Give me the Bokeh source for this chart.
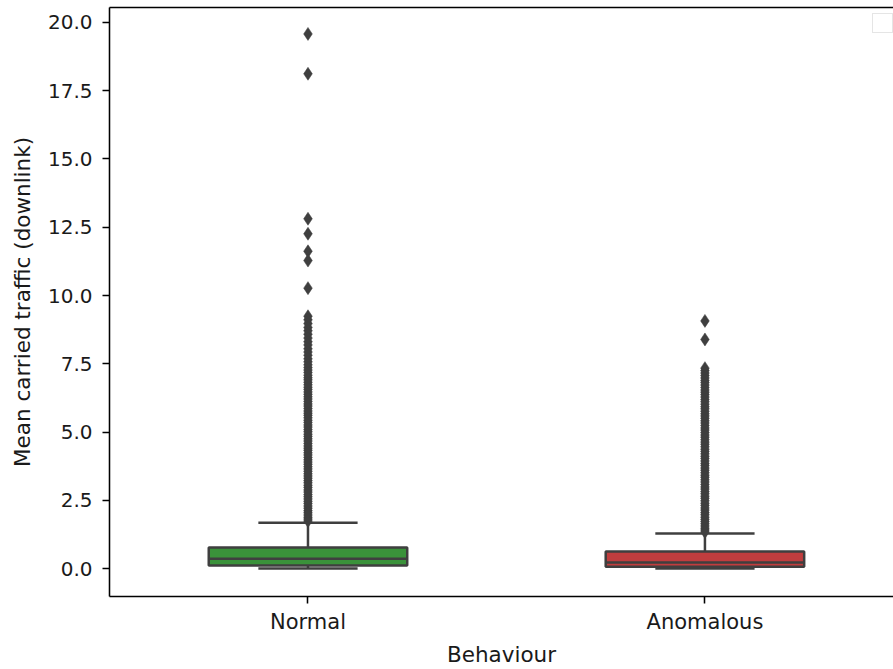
import numpy as np
from bokeh.plotting import figure
from bokeh.models import (ColumnDataSource, Range1d, FixedTicker, LinearAxis,
                          PrintfTickFormatter, Legend, LegendItem)
from bokeh.embed import file_html
from bokeh.resources import INLINE

# ---------------- data ----------------
categories = ["Normal", "Anomalous"]
box_colors = ["#3a923a", "#c03d3e"]
whisker_low = [0.0, 0.0]
q1 = [0.11, 0.07]
median = [0.36, 0.22]
q3 = [0.77, 0.62]
whisker_high = [1.68, 1.28]

outliers_normal = [
    19.58, 18.12, 12.81, 12.26, 11.62, 11.28, 10.27,
    9.24, 9.11, 8.97, 8.83, 8.71, 8.58, 8.44, 8.31, 8.19, 8.05, 7.93,
    7.81, 7.68, 7.57, 7.46, 7.36, 7.27, 7.18, 7.08, 6.99, 6.91, 6.82,
    6.73, 6.64, 6.56, 6.47, 6.38, 6.29, 6.21, 6.12, 6.03, 5.95, 5.86,
    5.77, 5.69, 5.61, 5.52, 5.43, 5.35, 5.26, 5.18, 5.09, 5.01, 4.92,
    4.84, 4.75, 4.67, 4.58, 4.49, 4.41, 4.33, 4.24, 4.16, 4.07, 3.98,
    3.9, 3.82, 3.73, 3.65, 3.56, 3.47, 3.39, 3.31, 3.22, 3.14, 3.05,
    2.97, 2.88, 2.8, 2.71, 2.63, 2.55, 2.46, 2.38, 2.29, 2.21, 2.12,
    2.04, 1.96, 1.88, 1.81, 1.74,
]
outliers_anomalous = [
    9.07, 8.39,
    7.34, 7.25, 7.16, 7.07, 6.98, 6.89, 6.81, 6.72, 6.63, 6.54, 6.46,
    6.37, 6.28, 6.19, 6.11, 6.02, 5.93, 5.85, 5.76, 5.67, 5.59, 5.5,
    5.41, 5.33, 5.24, 5.15, 5.07, 4.98, 4.89, 4.81, 4.72, 4.63, 4.55,
    4.46, 4.37, 4.29, 4.2, 4.11, 4.03, 3.94, 3.85, 3.77, 3.68, 3.6,
    3.51, 3.42, 3.34, 3.25, 3.17, 3.08, 2.99, 2.91, 2.82, 2.74, 2.65,
    2.57, 2.48, 2.39, 2.31, 2.22, 2.14, 2.05, 1.97, 1.88, 1.8, 1.72,
    1.64, 1.56, 1.48, 1.41, 1.34,
]
y_ticks = [0.0, 2.5, 5.0, 7.5, 10.0, 12.5, 15.0, 17.5, 20.0]
x_label = "Behaviour"
y_label = "Mean carried traffic (downlink)"

# ---------------- styling ----------------
FONT = "DejaVu Sans"
FS_YTICK = "20px"
FS_XTICK = "21px"
FS_LABEL = "21.5px"
EDGE = "#3f3f3f"
TEXT = "#1a1a1a"
BOX_W = 0.5
CAP_W = 0.25

pos = np.arange(len(categories), dtype=float)

p = figure(width=893, height=669, output_backend="svg", toolbar_location=None,
           x_range=Range1d(-0.5, 1.475), y_range=Range1d(-1.024, 20.548),
           x_axis_type=None, y_axis_type=None,
           min_border_left=109, min_border_right=0,
           min_border_top=7, min_border_bottom=70)
p.xgrid.visible = False
p.ygrid.visible = False
p.outline_line_color = None
p.background_fill_color = "white"
p.border_fill_color = "white"

box_src = ColumnDataSource(dict(
    x=pos, q1=q1, q3=q3, med=median, lo=whisker_low, hi=whisker_high,
    color=box_colors,
    x0=pos - BOX_W / 2, x1=pos + BOX_W / 2,
    c0=pos - CAP_W / 2, c1=pos + CAP_W / 2,
))

# whiskers
p.segment(x0="x", y0="q3", x1="x", y1="hi", source=box_src,
          line_color=EDGE, line_width=2.5)
p.segment(x0="x", y0="q1", x1="x", y1="lo", source=box_src,
          line_color=EDGE, line_width=2.5)
# caps
p.segment(x0="c0", y0="hi", x1="c1", y1="hi", source=box_src,
          line_color=EDGE, line_width=2.5)
p.segment(x0="c0", y0="lo", x1="c1", y1="lo", source=box_src,
          line_color=EDGE, line_width=2.5)
# boxes
p.quad(left="x0", right="x1", bottom="q1", top="q3", source=box_src,
       fill_color="color", line_color=EDGE, line_width=2.5)
# medians
p.segment(x0="x0", y0="med", x1="x1", y1="med", source=box_src,
          line_color=EDGE, line_width=2.5)

# outliers
ox = [pos[0]] * len(outliers_normal) + [pos[1]] * len(outliers_anomalous)
oy = outliers_normal + outliers_anomalous
p.scatter(x=ox, y=oy, marker="diamond", size=13,
          fill_color=EDGE, line_color=EDGE, line_width=0.5)

# axes
yax = LinearAxis(ticker=FixedTicker(ticks=y_ticks),
                 formatter=PrintfTickFormatter(format="%.1f"))
xax = LinearAxis(ticker=FixedTicker(ticks=list(pos)),
                 major_label_overrides={float(i): c for i, c in zip(pos, categories)} |
                                       {int(i): c for i, c in zip(pos, categories)})
for ax in (xax, yax):
    ax.axis_line_color = "black"
    ax.axis_line_width = 1.55
    ax.major_tick_line_color = "black"
    ax.major_tick_line_width = 1.55
    ax.major_tick_out = 7
    ax.major_tick_in = 0
    ax.minor_tick_line_color = None
    ax.major_label_text_font = FONT
    ax.major_label_text_color = TEXT
    ax.axis_label_text_font = FONT
    ax.axis_label_text_font_size = FS_LABEL
    ax.axis_label_text_font_style = "normal"
    ax.axis_label_text_color = TEXT
yax.major_label_text_font_size = FS_YTICK
xax.major_label_text_font_size = FS_XTICK
yax.axis_label = y_label
yax.major_label_standoff = 10
yax.axis_label_standoff = 10
xax.axis_label = x_label
xax.major_label_standoff = 6
xax.axis_label_standoff = 5
p.add_layout(yax, "left")
p.add_layout(xax, "below")

top_ax = LinearAxis(ticker=FixedTicker(ticks=[]), axis_line_color="black",
                    axis_line_width=1.55, major_tick_line_color=None,
                    minor_tick_line_color=None, major_label_text_font_size="0px",
                    major_label_standoff=0)
p.add_layout(top_ax, "above")

# empty legend frame (as in the reference)
dummy = p.scatter(x=[], y=[], alpha=0)
leg = Legend(items=[LegendItem(label=" ", renderers=[dummy])],
             location=(763, 563), padding=2, margin=0, spacing=0,
             glyph_width=15, glyph_height=14, label_standoff=0,
             label_width=0, label_height=0, label_text_font_size="1px",
             border_line_color="#cccccc", border_line_width=1.2,
             background_fill_color="white", background_fill_alpha=0.8)
p.add_layout(leg, "center")

open("out.html", "w").write(file_html(p, INLINE))
